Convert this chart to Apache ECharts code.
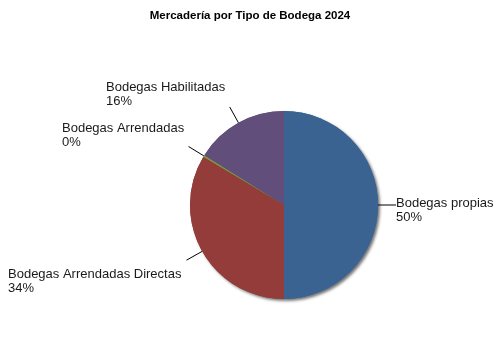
<!DOCTYPE html>
<html>
<head>
<meta charset="utf-8">
<script src="https://cdn.jsdelivr.net/npm/echarts@6/dist/echarts.min.js"></script>
<style>html,body{margin:0;padding:0;background:#fff;}#c{width:500px;height:350px;}</style>
</head>
<body>
<div id="c"></div>
<script>
const titleText = 'Mercadería por Tipo de Bodega 2024';
const categories = ['Bodegas propias', 'Bodegas Arrendadas Directas', 'Bodegas Arrendadas', 'Bodegas Habilitadas'];
const values = [50, 33.6, 0.3, 16.1];
const colors = ['#3b6392', '#933c39', '#7f9b3f', '#624e7b'];

// label block top-left positions (layout only)
const labelPos = [[396, 196], [8, 267], [62, 121], [106, 80]];

const pieData = categories.map((c, i) => ({name: c, value: values[i], itemStyle: {color: colors[i]}}));

const chart = echarts.init(document.getElementById('c'), null, {renderer: 'canvas'});
chart.setOption({
  animation: false,
  backgroundColor: '#ffffff',
  title: {
    text: titleText, left: 'center', top: 5,
    textStyle: {fontFamily: 'Liberation Sans, Arial, sans-serif', fontSize: 11.5, fontWeight: 'bold', color: '#000'}
  },
  series: [{
    // shadow layer behind the pie
    type: 'pie',
    z: 1,
    silent: true,
    center: [284, 205],
    radius: 94,
    startAngle: 90,
    clockwise: true,
    data: pieData,
    itemStyle: {borderWidth: 0, shadowColor: 'rgba(0,0,0,0.55)', shadowOffsetX: 2, shadowOffsetY: 2, shadowBlur: 3},
    label: {show: false},
    labelLine: {show: false},
    emphasis: {disabled: true}
  }, {
    type: 'pie',
    z: 2,
    center: [284, 205],
    radius: 94,
    startAngle: 90,
    clockwise: true,
    percentPrecision: 0,
    avoidLabelOverlap: false,
    data: pieData,
    itemStyle: {borderWidth: 0},
    label: {
      show: true, position: 'outside', formatter: '{b}\n{d}%',
      fontFamily: 'Liberation Sans, Arial, sans-serif', fontSize: 13, lineHeight: 14, color: '#1a1a1a', align: 'left'
    },
    labelLine: {show: true, length: 18, length2: 0, smooth: false, lineStyle: {color: '#000', width: 1}},
    labelLayout: function (p) {
      const pos = labelPos[p.dataIndex];
      return {x: pos[0], y: pos[1], align: 'left', verticalAlign: 'top', labelLinePoints: p.labelLinePoints};
    }
  }]
});
</script>
</body>
</html>
